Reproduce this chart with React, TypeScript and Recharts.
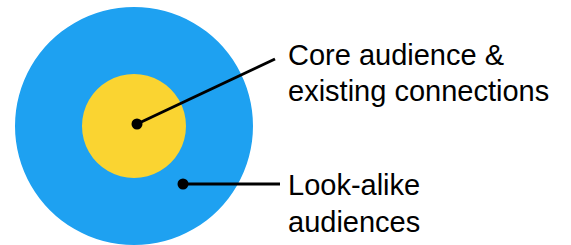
import React from "react";
import { PieChart, Pie, Cell } from "recharts";

const coreData = [{ name: "Core audience & existing connections", value: 1 }];
const lookalikeData = [{ name: "Look-alike audiences", value: 1 }];
const coreLabel = ["Core audience &", "existing connections"];
const lookalikeLabel = ["Look-alike", "audiences"];

const W = 571;
const H = 245;
const CX = 134;
const CY = 126;
const FONT = "'Liberation Sans', Arial, sans-serif";

const Annotations = () => {
  const d1 = { x: CX + 3, y: CY - 2 };
  const d2 = { x: CX + 49, y: CY + 58 };
  return (
    <svg width={W} height={H} style={{ position: "absolute", left: 0, top: 0 }}>
      <line x1={d1.x} y1={d1.y} x2={275} y2={59} stroke="#000" strokeWidth={3} />
      <circle cx={d1.x} cy={d1.y} r={5.5} fill="#000" />
      <line x1={d2.x} y1={d2.y} x2={280} y2={d2.y} stroke="#000" strokeWidth={3} />
      <circle cx={d2.x} cy={d2.y} r={5.5} fill="#000" />
      <text x={288} y={64.5} fontSize={29} fontFamily={FONT} fill="#000">{coreLabel[0]}</text>
      <text x={288} y={100.5} fontSize={29} fontFamily={FONT} fill="#000">{coreLabel[1]}</text>
      <text x={288} y={195} fontSize={29} fontFamily={FONT} fill="#000">{lookalikeLabel[0]}</text>
      <text x={288} y={232} fontSize={29} fontFamily={FONT} fill="#000">{lookalikeLabel[1]}</text>
    </svg>
  );
};

export default function App() {
  return (
    <div style={{ position: "absolute", left: 0, top: 0, width: W, height: H, background: "#fff" }}>
      <PieChart width={W} height={H} margin={{ top: 0, right: 0, bottom: 0, left: 0 }}>
        <Pie
          data={lookalikeData}
          dataKey="value"
          nameKey="name"
          cx={CX}
          cy={CY}
          innerRadius={0}
          outerRadius={119}
          startAngle={90}
          endAngle={-270}
          stroke="none"
          isAnimationActive={false}
        >
          <Cell fill="#1ea1f1" />
        </Pie>
        <Pie
          data={coreData}
          dataKey="value"
          nameKey="name"
          cx={CX}
          cy={CY}
          innerRadius={0}
          outerRadius={52}
          startAngle={90}
          endAngle={-270}
          stroke="none"
          isAnimationActive={false}
        >
          <Cell fill="#fad431" />
        </Pie>
      </PieChart>
      <Annotations />
    </div>
  );
}
